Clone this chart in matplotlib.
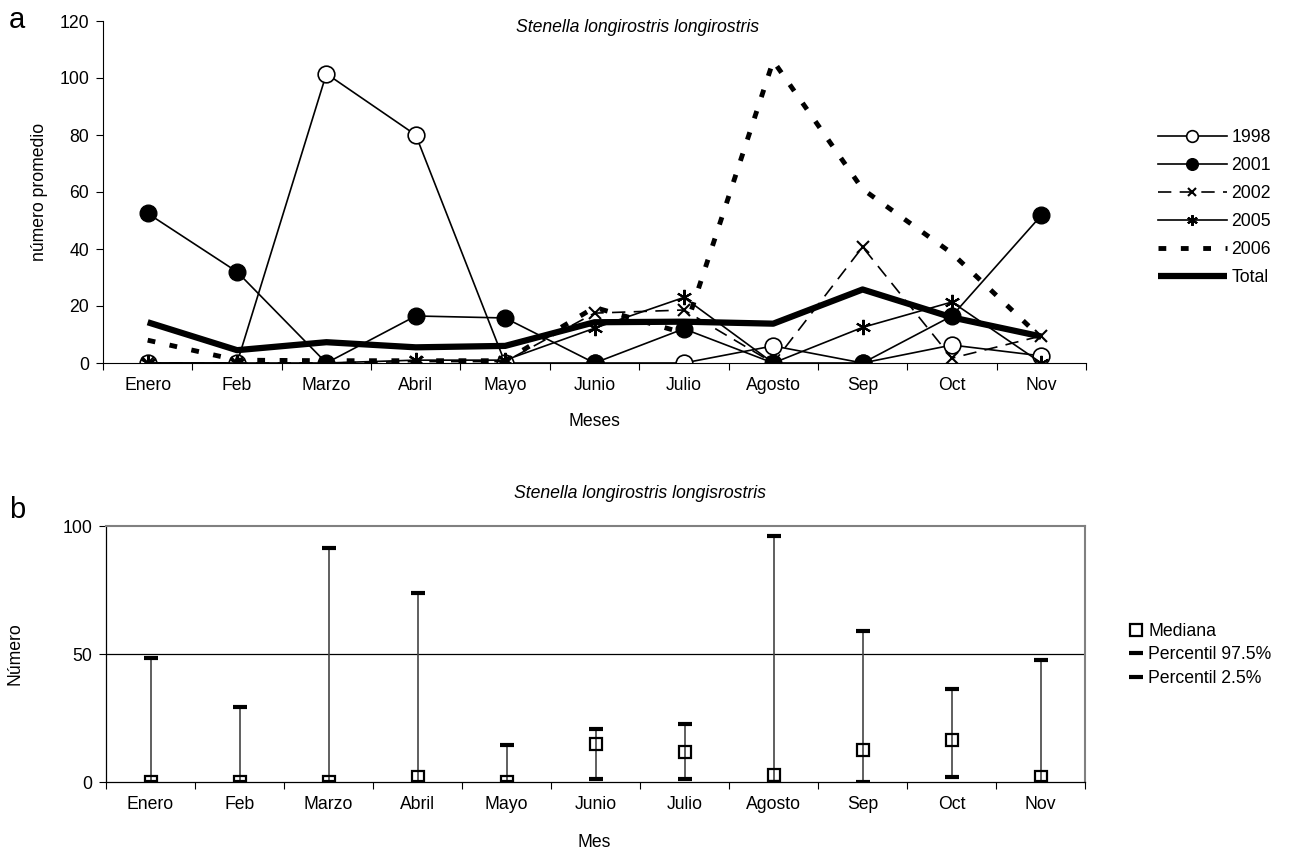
import numpy as np
import matplotlib
matplotlib.use('Agg')
import matplotlib.pyplot as plt
from matplotlib.lines import Line2D

plt.rcParams['font.family'] = ['Liberation Sans', 'DejaVu Sans']
FS = 12.7

# month categories
meses = ['Enero', 'Feb', 'Marzo', 'Abril', 'Mayo', 'Junio', 'Julio', 'Agosto', 'Sep', 'Oct', 'Nov']

# panel a: mean number per year
y1998 = [0, 0, 101.5, 80, 0, 0, 0, 6, 0, 6.3, 2.5]
y2001 = [52.5, 32, 0, 16.5, 15.8, 0, 12, 0, 0, 16.5, 51.8]
y2002 = [0, 0, 0, 0.5, 0.5, 17.5, 18.6, 0, 40.7, 1.7, 9.5]
y2005 = [0, 0, 0, 1, 1, 12.2, 23, 0, 12.5, 21.4, 0]
y2006 = [8, 1, 0.8, 0.8, 0.8, 19.5, 10.5, 106, 61, 38.5, 8.8]
total = [14.3, 4.5, 7.3, 5.5, 6, 14.3, 14.5, 13.8, 25.8, 16, 9.3]

# panel b: median and percentiles
mediana = [0, 0, 0, 1.8, 0, 14.8, 11.9, 2.7, 12.4, 16.4, 2]
p975 = [48.4, 29.3, 91.4, 73.8, 14.5, 20.7, 22.6, 96, 59, 36.3, 47.6]
p025 = [0, 0, 0, 0, 0, 1.2, 1.2, 0, 0, 2, 0]

fig = plt.figure(figsize=(12.91, 8.63), dpi=100)
x = np.arange(len(meses))

# ---- panel a ----
ax = fig.add_axes([103/1291, 1-363/863, 983/1291, 342/863])
ax.plot(x, y1998, color='black', lw=1.2, marker='o', ms=12, mfc='white', mec='black', mew=1.2, label='1998')
ax.plot(x, y2001, color='black', lw=1.2, marker='o', ms=12, mfc='black', mec='black', label='2001')
ax.plot(x, y2002, color='black', lw=1.2, dashes=(8, 5), marker='x', ms=9, mew=1.5, label='2002')
ax.plot(x, y2005, color='black', lw=1.2, marker=(6, 2, 0), ms=11, mew=1.5, label='2005')
ax.plot(x, y2006, color='black', lw=3.5, dashes=(1.6, 3.0), dash_capstyle='butt', label='2006')
ax.plot(x, total, color='black', lw=4.5, solid_capstyle='butt', label='Total')

ax.set_xlim(-0.5, len(meses) - 0.5)
ax.set_ylim(0, 120)
ax.set_yticks(np.arange(0, 121, 20))
ax.set_xticks(x)
ax.set_xticklabels(meses)
ax.set_xticks(np.arange(-0.5, len(meses)), minor=True)
ax.tick_params(axis='x', which='major', length=0, pad=10, labelsize=FS)
ax.tick_params(axis='x', which='minor', length=5, direction='out', width=0.8)
ax.tick_params(axis='y', length=5, direction='out', width=0.8, labelsize=FS, pad=5)
ax.spines['top'].set_visible(False)
ax.spines['right'].set_visible(False)
for s in ['left', 'bottom']:
    ax.spines[s].set_linewidth(0.8)

leg = ax.legend(loc='upper left', bbox_to_anchor=(1158/1291, 1-129/863), bbox_transform=fig.transFigure,
                frameon=False, fontsize=FS, handlelength=3.9, handletextpad=0.25, labelspacing=0.62,
                borderpad=0, borderaxespad=0, markerscale=0.7)

fig.text(638/1291, 1-27/863, 'Stenella longirostris longirostris', style='italic', fontsize=FS, ha='center', va='center')
fig.text(594/1291, 1-422/863, 'Meses', fontsize=FS, ha='center', va='center')
fig.text(40/1291, 1-192/863, 'número promedio', fontsize=FS, rotation=90, ha='center', va='center')
fig.text(17/1291, 1-20/863, 'a', fontsize=21, ha='center', va='center')

# ---- panel b ----
bx = fig.add_axes([106/1291, 1-782/863, 979/1291, 256/863])
bx.vlines(x, p025, p975, color='#444444', lw=1.2, zorder=2)
bx.plot(x, p975, ls='none', marker='_', ms=10.5, mew=3, color='black', zorder=3)
bx.plot(x, p025, ls='none', marker='_', ms=10.5, mew=3, color='black', zorder=3)
bx.plot(x, mediana, ls='none', marker='s', ms=8.5, mfc='none', mec='black', mew=1.6, zorder=4)
bx.axhline(50, color='black', lw=0.9, zorder=1)

bx.set_xlim(-0.5, len(meses) - 0.5)
bx.set_ylim(0, 100)
bx.set_yticks([0, 50, 100])
bx.set_xticks(x)
bx.set_xticklabels(meses)
bx.set_xticks(np.arange(-0.5, len(meses)), minor=True)
bx.tick_params(axis='x', which='major', length=0, pad=10, labelsize=FS)
bx.tick_params(axis='x', which='minor', length=5, direction='out', width=0.8)
bx.tick_params(axis='y', length=5, direction='out', width=0.8, labelsize=FS, pad=5)
bx.spines['top'].set_color('#808080')
bx.spines['right'].set_color('#808080')
bx.spines['top'].set_linewidth(1.5)
bx.spines['right'].set_linewidth(1.5)
bx.spines['left'].set_linewidth(0.9)
bx.spines['bottom'].set_linewidth(0.9)

handles = [Line2D([], [], ls='none', marker='s', ms=8.5, mfc='none', mec='black', mew=1.6),
           Line2D([], [], ls='none', marker='_', ms=10.5, mew=3, color='black'),
           Line2D([], [], ls='none', marker='_', ms=10.5, mew=3, color='black')]
bx.legend(handles, ['Mediana', 'Percentil 97.5%', 'Percentil 2.5%'], loc='upper left',
          bbox_to_anchor=(1129/1291, 1-623/863), bbox_transform=fig.transFigure,
          frameon=False, fontsize=FS, handlelength=0.8, handletextpad=0.3, labelspacing=0.36,
          borderpad=0, borderaxespad=0)

fig.text(640/1291, 1-493/863, 'Stenella longirostris longisrostris', style='italic', fontsize=FS, ha='center', va='center')
fig.text(594/1291, 1-842/863, 'Mes', fontsize=FS, ha='center', va='center')
fig.text(15/1291, 1-654/863, 'Número', fontsize=FS, rotation=90, ha='center', va='center')
fig.text(17/1291, 1-510/863, 'b', fontsize=21, ha='center', va='center')

fig.savefig('out.png', dpi=100)
